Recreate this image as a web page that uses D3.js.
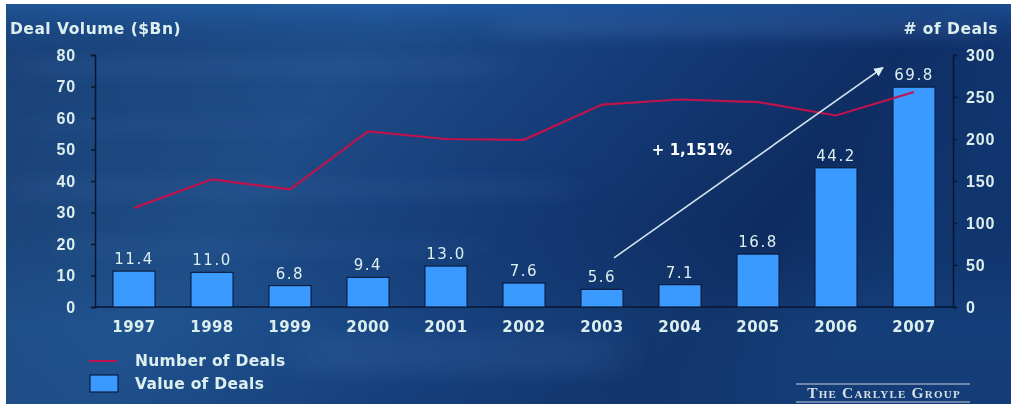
<!DOCTYPE html>
<html><head><meta charset="utf-8">
<script src="https://cdn.jsdelivr.net/npm/d3@7"></script>
<style>body{margin:0;background:#fff}svg{display:block}</style>
</head><body><svg id="c" width="1011" height="405"></svg>
<script>
const years = ["1997","1998","1999","2000","2001","2002","2003","2004","2005","2006","2007"];
const dealValues = [11.4, 11.0, 6.8, 9.4, 13.0, 7.6, 5.6, 7.1, 16.8, 44.2, 69.8];
const dealCounts = [118, 152, 140, 209, 200, 199, 241, 247, 244, 228, 256];
const leftTicks = [0,10,20,30,40,50,60,70,80];
const rightTicks = [0,50,100,150,200,250,300];
const growthLabel = "+ 1,151%";

const svg = d3.select("#c");
const W = 1011, H = 405;
const defs = svg.append("defs");
const g1 = defs.append("linearGradient").attr("id","bg").attr("x1",0).attr("y1",0).attr("x2",1).attr("y2",0.3);
[["0%","#1c4579"],["35%","#22548f"],["60%","#163f7c"],["85%","#0f2d62"],["100%","#123872"]].forEach(s=>g1.append("stop").attr("offset",s[0]).attr("stop-color",s[1]));
const g2 = defs.append("linearGradient").attr("id","vb").attr("x1",0).attr("y1",0).attr("x2",0).attr("y2",1);
[["0%","#2462b0",0.55],["12%","#0f3370",0.2],["55%","#0a2250",0.15],["80%","#1c5290",0.25],["100%","#18457f",0.3]].forEach(s=>g2.append("stop").attr("offset",s[0]).attr("stop-color",s[1]).attr("stop-opacity",s[2]));
const blur = defs.append("filter").attr("id","bl").attr("x","-20%").attr("y","-100%").attr("width","140%").attr("height","300%");
blur.append("feGaussianBlur").attr("stdDeviation","20 8");

svg.append("rect").attr("x",6).attr("y",4).attr("width",W-6).attr("height",H-5).attr("fill","url(#bg)");
svg.append("rect").attr("x",6).attr("y",4).attr("width",W-6).attr("height",H-5).attr("fill","url(#vb)");
const streaks = [[20,60,480,14,0.07],[10,180,560,18,0.06],[60,240,420,14,0.05],[500,18,480,18,0.1],[20,120,300,12,0.05],[300,335,320,40,0.07]];
svg.append("g").attr("filter","url(#bl)").selectAll("rect").data(streaks).join("rect")
  .attr("x",d=>d[0]).attr("y",d=>d[1]).attr("width",d=>d[2]).attr("height",d=>d[3])
  .attr("fill","#8fc0ff").attr("opacity",d=>d[4]);

const x = d3.scaleBand().domain(years).range([95,953]).paddingInner(0.46).paddingOuter(0.23);
const yL = d3.scaleLinear().domain([0,80]).range([307,55]);
const yR = d3.scaleLinear().domain([0,300]).range([307,55]);
const txt = "#dcefee";
const font = "DejaVu Sans, Verdana, sans-serif";

const ax = svg.append("g").attr("font-family",font);
const la = ax.append("g").attr("transform","translate(95,0)").call(d3.axisLeft(yL).tickValues(leftTicks).tickSize(4).tickPadding(14));
const ra = ax.append("g").attr("transform","translate(953,0)").call(d3.axisRight(yR).tickValues(rightTicks).tickSize(4).tickPadding(9));
[la,ra].forEach(a=>{
  a.select(".domain").attr("stroke","#0a1630").attr("stroke-width",1.5);
  a.selectAll(".tick line").attr("stroke","#0a1630").attr("stroke-width",1.5);
  a.selectAll("text").attr("fill",txt).attr("font-size",16).attr("font-weight","bold").attr("letter-spacing",0.8);
});
la.selectAll("text").attr("dx",-1);
ax.append("line").attr("x1",95).attr("x2",953).attr("y1",307).attr("y2",307).attr("stroke","#0a1630").attr("stroke-width",1.5);

svg.append("g").selectAll("rect").data(years).join("rect")
  .attr("x",d=>x(d)).attr("width",x.bandwidth())
  .attr("y",(d,i)=>yL(dealValues[i])).attr("height",(d,i)=>yL(0)-yL(dealValues[i]))
  .attr("fill","#3a9aff").attr("stroke","#0c1d3e").attr("stroke-width",1.2);

svg.append("g").selectAll("text").data(years).join("text")
  .attr("x",d=>x(d)+x.bandwidth()/2).attr("y",(d,i)=>yL(dealValues[i])-7)
  .attr("text-anchor","middle").attr("fill",txt).attr("font-family",font)
  .attr("font-size",15).attr("letter-spacing",1.5).text((d,i)=>dealValues[i].toFixed(1));

svg.append("g").selectAll("text").data(years).join("text")
  .attr("x",d=>x(d)+x.bandwidth()/2).attr("y",332)
  .attr("text-anchor","middle").attr("fill",txt).attr("font-family",font)
  .attr("font-size",15).attr("font-weight","bold").attr("letter-spacing",0.4).text(d=>d);

const line = d3.line().x((d,i)=>x(years[i])+x.bandwidth()/2).y(d=>yR(d));
svg.append("path").datum(dealCounts).attr("d",line).attr("fill","none")
  .attr("stroke","#c0124c").attr("stroke-width",2.2);

defs.append("marker").attr("id","ah").attr("viewBox","0 0 10 10").attr("refX",9).attr("refY",5)
  .attr("markerWidth",6).attr("markerHeight",6).attr("orient","auto")
  .append("path").attr("d","M0,0 L10,5 L0,10 z").attr("fill","#dfeef2");
const arrowFrom = ["2003", 15.6], arrowTo = ["2007", 76];
svg.append("line").attr("x1",x(arrowFrom[0])+x.bandwidth()/2+12).attr("y1",yL(arrowFrom[1]))
  .attr("x2",x(arrowTo[0])-10).attr("y2",yL(arrowTo[1]))
  .attr("stroke","#d4e6ee").attr("stroke-width",1.6).attr("marker-end","url(#ah)");
svg.append("text").attr("x",692).attr("y",155).attr("text-anchor","middle")
  .attr("fill","#ffffff").attr("font-family",font).attr("font-size",15).attr("font-weight","bold").text(growthLabel);

svg.append("text").attr("x",10).attr("y",34).attr("fill",txt).attr("font-family",font)
  .attr("font-size",15.5).attr("font-weight","bold").attr("letter-spacing",0.5).text("Deal Volume ($Bn)");
svg.append("text").attr("x",998).attr("y",34).attr("text-anchor","end").attr("fill",txt).attr("font-family",font)
  .attr("font-size",15.5).attr("font-weight","bold").attr("letter-spacing",0.5).text("# of Deals");

const lg = svg.append("g").attr("font-family",font);
lg.append("line").attr("x1",89).attr("x2",117).attr("y1",361).attr("y2",361).attr("stroke","#c0124c").attr("stroke-width",2);
lg.append("rect").attr("x",90).attr("y",375).attr("width",28).attr("height",17).attr("fill","#3a9aff").attr("stroke","#0c1d3e").attr("stroke-width",1.2);
lg.append("text").attr("x",135).attr("y",366).attr("fill",txt).attr("font-size",15.5).attr("font-weight","bold").attr("letter-spacing",0.3).text("Number of Deals");
lg.append("text").attr("x",135).attr("y",389).attr("fill",txt).attr("font-size",15.5).attr("font-weight","bold").attr("letter-spacing",0.3).text("Value of Deals");

const lo = svg.append("g");
lo.append("line").attr("x1",796).attr("x2",970).attr("y1",384).attr("y2",384).attr("stroke","#c8d2dc").attr("stroke-width",1);
lo.append("line").attr("x1",796).attr("x2",970).attr("y1",402).attr("y2",402).attr("stroke","#c8d2dc").attr("stroke-width",1);
lo.append("text").attr("x",884).attr("y",398).attr("text-anchor","middle").attr("fill","#d8dfe6")
  .attr("font-family","Liberation Serif, DejaVu Serif, serif").attr("font-size",15.5).attr("font-weight","bold")
  .attr("letter-spacing",1.2).style("font-variant","small-caps").text("The Carlyle Group");
</script></body></html>
